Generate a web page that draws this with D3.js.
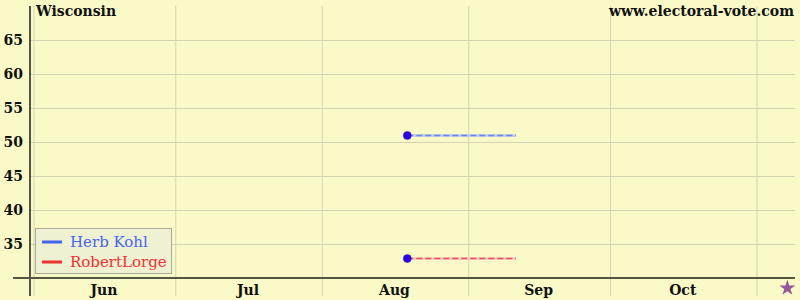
<!DOCTYPE html>
<html>
<head>
<meta charset="utf-8">
<script src="https://cdn.jsdelivr.net/npm/d3@7/dist/d3.min.js"></script>
<style>
  body { margin: 0; background: #fafac8; }
  svg { display: block; }
  text { font-family: "DejaVu Serif", serif; font-weight: bold; }
  text.legend { font-family: "DejaVu Serif", serif; font-weight: normal; }
</style>
</head>
<body>
<div id="chart"></div>
<script>
// Poll data (2006 Wisconsin Senate race)
const candidates = ['Herb Kohl', 'RobertLorge'];
const colors = ['#4466ee', '#ee3333'];
const dashColors = ['#6688ee', '#f05050'];
const haloColors = ['#c9cfe4', '#f2cfc4'];
const pollDates = ['2006-08-19'];
const kohlValues = [51];
const lorgeValues = [33];
const lastDate = '2006-09-11';
const electionDate = '2006-11-07';
const yTicks = [35, 40, 45, 50, 55, 60, 65];
const monthStarts = ['2006-06-01', '2006-07-01', '2006-08-01', '2006-09-01', '2006-10-01', '2006-11-01'];
const monthLabels = ['Jun', 'Jul', 'Aug', 'Sep', 'Oct'];

const W = 800, H = 300;
const parse = d3.timeParse('%Y-%m-%d');

const svg = d3.select('#chart').append('svg')
  .attr('width', W).attr('height', H);

svg.append('rect').attr('width', W).attr('height', H).attr('fill', '#fafac8');

const x = d3.scaleTime()
  .domain([parse('2006-06-01'), parse('2006-11-01')])
  .range([34, 757]);
const y = d3.scaleLinear().domain([30, 70]).range([278, 6]);

// grid
svg.append('g').selectAll('line.vg')
  .data(monthStarts.map(parse))
  .join('line')
  .attr('x1', d => x(d)).attr('x2', d => x(d))
  .attr('y1', 6).attr('y2', 296)
  .attr('stroke', '#d4d4b4').attr('stroke-width', 1);

svg.append('g').selectAll('line.hg')
  .data(yTicks)
  .join('line')
  .attr('x1', 31).attr('x2', 795)
  .attr('y1', d => Math.round(y(d)) + 0.5).attr('y2', d => Math.round(y(d)) + 0.5)
  .attr('stroke', '#d4d4b4').attr('stroke-width', 1);

// axes
svg.append('line')
  .attr('x1', 13).attr('x2', 795)
  .attr('y1', y(30)).attr('y2', y(30))
  .attr('stroke', '#555544').attr('stroke-width', 2);
svg.append('line')
  .attr('x1', 30).attr('x2', 30)
  .attr('y1', 6).attr('y2', 296)
  .attr('stroke', '#555544').attr('stroke-width', 2);

// y tick labels
svg.append('g').selectAll('text')
  .data(yTicks)
  .join('text')
  .attr('x', 23).attr('y', d => y(d) + 5)
  .attr('text-anchor', 'end')
  .attr('font-size', 14)
  .attr('fill', '#111')
  .text(d => d);

// month labels
svg.append('g').selectAll('text')
  .data(monthLabels)
  .join('text')
  .attr('x', (d, i) => (x(parse(monthStarts[i])) + x(parse(monthStarts[i + 1]))) / 2 - 1)
  .attr('y', 295)
  .attr('text-anchor', 'middle')
  .attr('font-size', 14)
  .attr('fill', '#111')
  .text(d => d);

// titles
svg.append('text').attr('x', 36).attr('y', 16)
  .attr('font-size', 14).attr('fill', '#111').text('Wisconsin');
svg.append('text').attr('x', 794).attr('y', 16)
  .attr('text-anchor', 'end')
  .attr('font-size', 14).attr('fill', '#111').text('www.electoral-vote.com');

// series: dashed projection from the last poll, then the poll dots
const series = [kohlValues, lorgeValues];
series.forEach((vals, k) => {
  const last = vals[vals.length - 1];
  const yy = Math.round(y(last)) + 0.5;
  const x1 = x(parse(pollDates[pollDates.length - 1]));
  const x2 = x(parse(lastDate));
  svg.append('line')
    .attr('x1', x1).attr('x2', x2).attr('y1', yy).attr('y2', yy)
    .attr('stroke', haloColors[k]).attr('stroke-width', 3);
  svg.append('line')
    .attr('x1', x1).attr('x2', x2).attr('y1', yy).attr('y2', yy)
    .attr('stroke', dashColors[k])
    .attr('stroke-width', 1.6)
    .attr('stroke-dasharray', '6,3');
  svg.append('g').selectAll('circle')
    .data(vals)
    .join('circle')
    .attr('cx', (d, i) => x(parse(pollDates[i])))
    .attr('cy', d => Math.round(y(d)) + 0.5)
    .attr('r', 4)
    .attr('fill', '#2a00ee')
    .attr('stroke', '#3a2a99').attr('stroke-width', 0.6);
});

// election day star
const star = d3.symbol().type(d3.symbolStar).size(80);
svg.append('path')
  .attr('d', star())
  .attr('transform', `translate(${x(parse(electionDate)) + 2},${288})`)
  .attr('fill', '#995599');

// legend
const lg = svg.append('g');
lg.append('rect')
  .attr('x', 35.5).attr('y', 228.5).attr('width', 136).attr('height', 45)
  .attr('fill', '#f0f0d2').attr('stroke', '#aaaa99');
candidates.forEach((c, i) => {
  const yy = 242 + i * 20;
  lg.append('line')
    .attr('x1', 42).attr('x2', 62).attr('y1', yy).attr('y2', yy)
    .attr('stroke', colors[i]).attr('stroke-width', 3);
  lg.append('text')
    .attr('class', 'legend')
    .attr('x', 70).attr('y', yy + 5)
    .attr('font-size', 15)
    .attr('fill', colors[i]).text(c);
});
</script>
</body>
</html>
